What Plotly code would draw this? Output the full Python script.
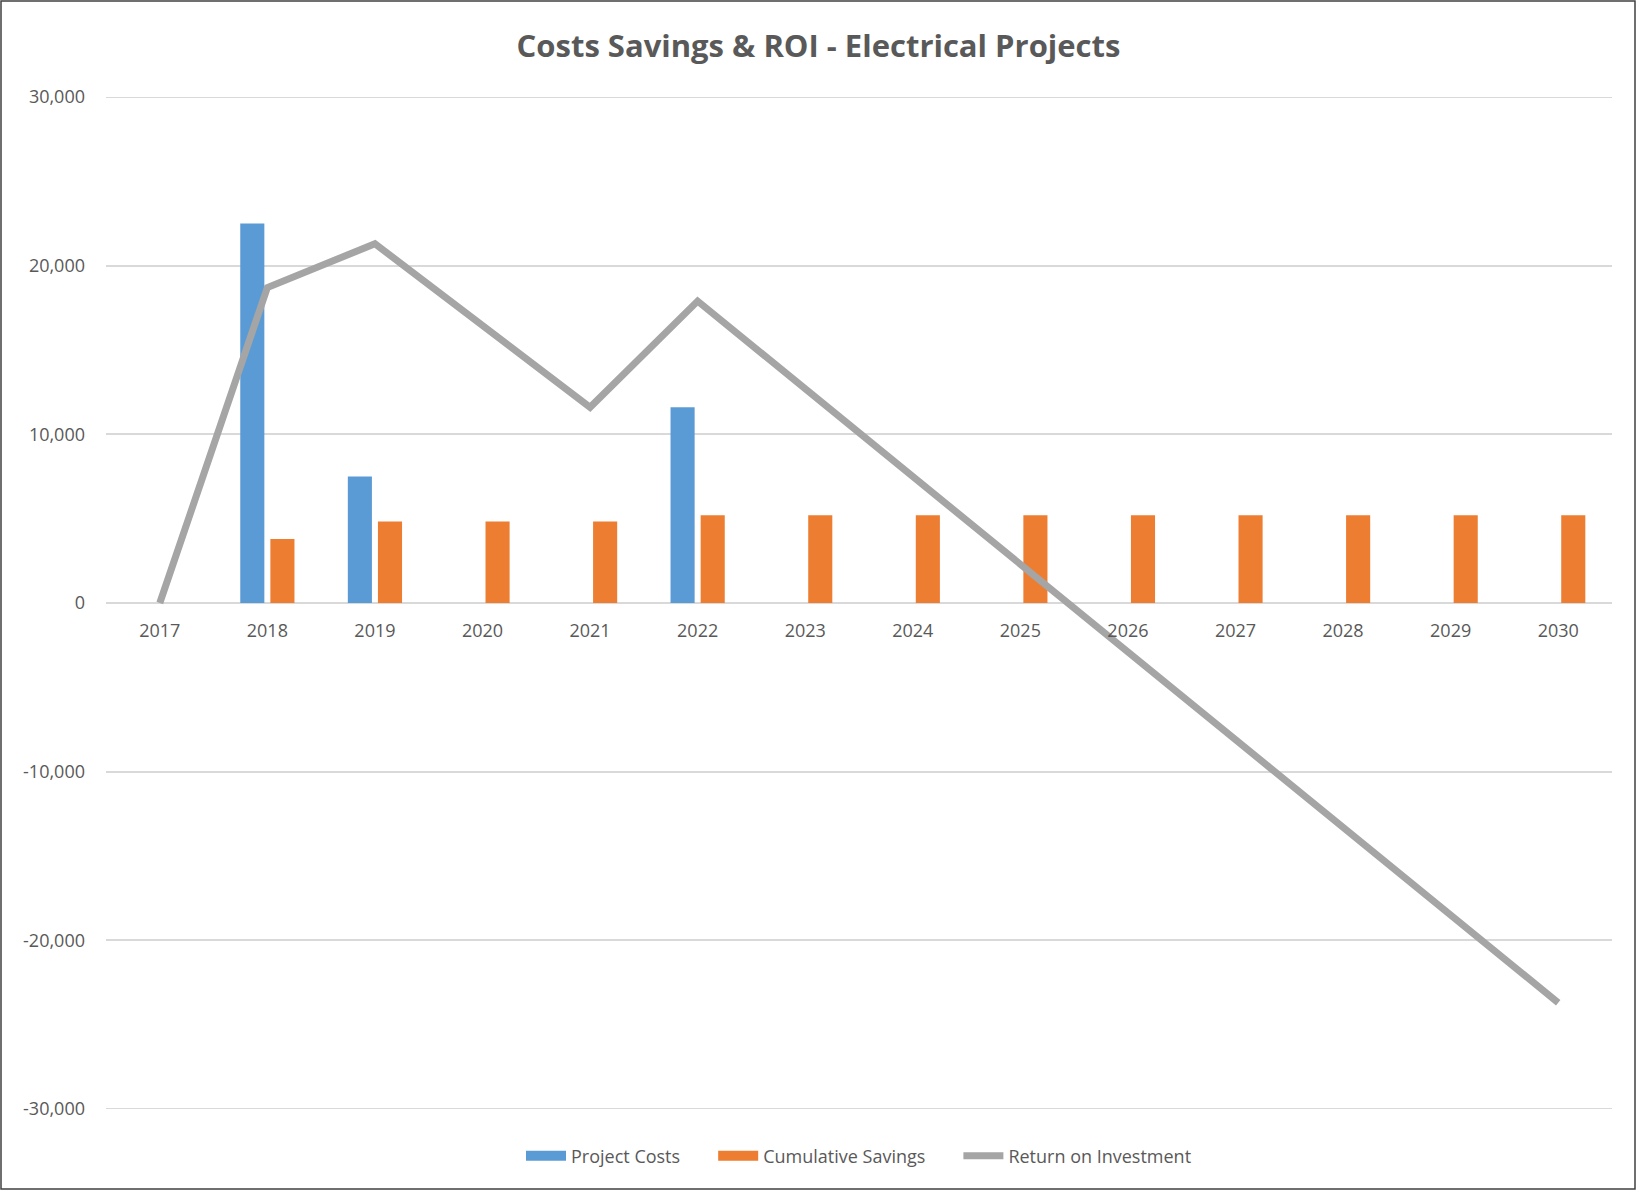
import plotly.graph_objects as go

years = ["2017", "2018", "2019", "2020", "2021", "2022", "2023", "2024",
         "2025", "2026", "2027", "2028", "2029", "2030"]
project_costs = [0, 22500, 7500, 0, 0, 11600, 0, 0, 0, 0, 0, 0, 0, 0]
cumulative_savings = [0, 3800, 4830, 4830, 4830, 5200, 5200, 5200, 5200,
                      5200, 5200, 5200, 5200, 5200]
return_on_investment = [0, 18700, 21300, 16500, 11600, 17900, 12700, 7500,
                        2300, -2900, -8100, -13300, -18500, -23700]
y_ticks = [-30000, -20000, -10000, 0, 10000, 20000, 30000]
y_tick_labels = ["-30,000", "-20,000", "-10,000", "0", "10,000", "20,000", "30,000"]
series_names = ["Project Costs", "Cumulative Savings", "Return on Investment"]

W, H = 1637, 1191
L, R, T, B = 106, 25, 97, 82
pw, ph = W - L - R, H - T - B

font_family = "Open Sans, Liberation Sans, sans-serif"
text_color = "#595959"
grid_color = "#D9D9D9"
blue, orange, gray = "#5B9BD5", "#ED7D31", "#A5A5A5"
pad = "\u00a0" * 6

fig = go.Figure()
fig.add_trace(go.Bar(
    x=years, y=project_costs, name=series_names[0],
    marker=dict(color=blue, line=dict(width=0)),
    legendgroup="pc", showlegend=False,
))
fig.add_trace(go.Bar(
    x=years, y=cumulative_savings, name=series_names[1],
    marker=dict(color=orange, line=dict(width=0)),
    legendgroup="cs", showlegend=False,
))
fig.add_trace(go.Scatter(
    x=years, y=return_on_investment, name=series_names[2],
    mode="lines", line=dict(color=gray, width=7), legendrank=3,
))
# legend keys drawn as wide bands like the original chart
fig.add_trace(go.Scatter(
    x=[None], y=[None], name=series_names[0] + pad, mode="lines",
    line=dict(color=blue, width=11), legendgroup="pc", legendrank=1,
    hoverinfo="skip",
))
fig.add_trace(go.Scatter(
    x=[None], y=[None], name=series_names[1] + pad, mode="lines",
    line=dict(color=orange, width=11), legendgroup="cs", legendrank=2,
    hoverinfo="skip",
))

edge_lines = [
    dict(type="line", xref="paper", x0=0, x1=1, yref="y", y0=v, y1=v,
         line=dict(color=grid_color, width=2), layer="below")
    for v in (y_ticks[0], y_ticks[-1])
]

fig.update_layout(
    width=W, height=H,
    margin=dict(l=L, r=R, t=T, b=B),
    paper_bgcolor="white", plot_bgcolor="white",
    barmode="group", bargap=0.44, bargroupgap=0.2,
    font=dict(family=font_family, color=text_color, size=18),
    title=dict(
        text="<b>Costs Savings &amp; ROI - Electrical Projects</b>",
        x=0.5, xanchor="center", xref="container",
        y=1 - 46 / H, yanchor="middle", yref="container",
        font=dict(size=31, color=text_color, family=font_family),
    ),
    xaxis=dict(
        type="category", anchor="free", position=0.5,
        showgrid=False, showline=False, ticks="",
        ticklabelstandoff=15,
        tickfont=dict(size=18, color=text_color),
    ),
    yaxis=dict(
        range=[-30000, 30000], tickvals=y_ticks, ticktext=y_tick_labels,
        showgrid=True, gridcolor=grid_color, gridwidth=2,
        zeroline=True, zerolinecolor=grid_color, zerolinewidth=2,
        showline=False, ticks="", ticklabelstandoff=20,
        tickfont=dict(size=18, color=text_color),
    ),
    legend=dict(
        orientation="h", x=0.5, xanchor="center",
        y=(T + ph - 1156) / ph, yanchor="middle",
        font=dict(size=18, color=text_color),
        traceorder="normal", itemwidth=40,
    ),
    shapes=edge_lines + [dict(
        type="rect", xref="paper", yref="paper",
        x0=(1 - L) / pw, x1=(W - 2 - L) / pw,
        y0=(T + ph - (H - 2)) / ph, y1=(T + ph - 1) / ph,
        line=dict(color="#404040", width=1.5), fillcolor="rgba(0,0,0,0)",
        layer="below",
    )],
)

fig.write_html("out.html")
